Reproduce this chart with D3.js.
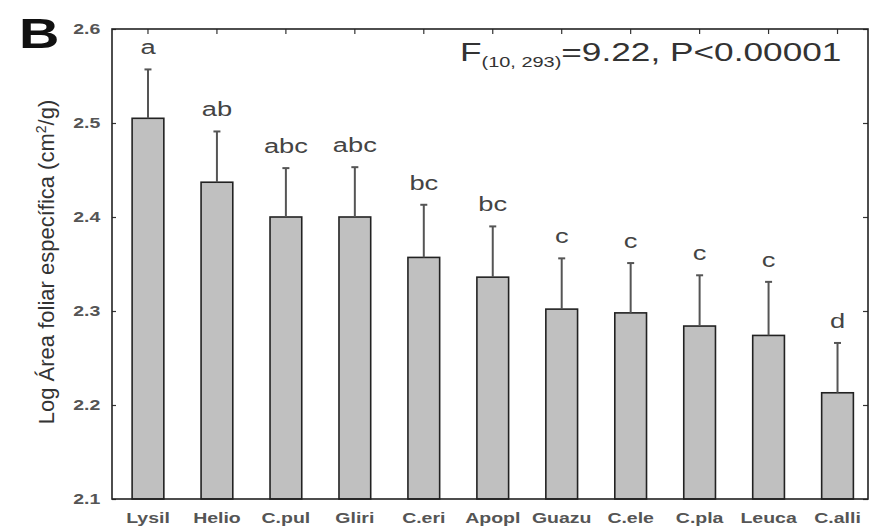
<!DOCTYPE html>
<html>
  <head>
    <style>
      body { margin: 0; background: #fff; font-family: Arial, "Liberation Sans", sans-serif; }
      .tick-label { font-size: 15px; font-weight: bold; fill: #555; }
      .cat-label { font-size: 15px; font-weight: bold; fill: #555; }
      .letter { font-size: 21px; fill: #444; text-anchor: middle; }
      .bar { fill: #c0c0c0; stroke: #222; stroke-width: 1.6; }
      .err { stroke: #555; stroke-width: 2; }
    </style>
  </head>
  <body>
    <script src="https://d3js.org/d3.v7.min.js"></script>
    <script>
      // data
      const categories = ['Lysil', 'Helio', 'C.pul', 'Gliri', 'C.eri', 'Apopl', 'Guazu', 'C.ele', 'C.pla', 'Leuca', 'C.alli'];
      const means = [2.505, 2.437, 2.400, 2.400, 2.357, 2.336, 2.302, 2.298, 2.284, 2.274, 2.213];
      const upper = [2.557, 2.491, 2.452, 2.453, 2.413, 2.390, 2.356, 2.351, 2.338, 2.331, 2.266];
      const letters = ['a', 'ab', 'abc', 'abc', 'bc', 'bc', 'c', 'c', 'c', 'c', 'd'];
      const yTicks = [2.1, 2.2, 2.3, 2.4, 2.5, 2.6];

      const data = categories.map((c, i) => ({ name: c, mean: means[i], up: upper[i], letter: letters[i] }));

      const width = 873, height = 526;
      const frame = { left: 112, top: 29, right: 868, bottom: 499 };
      const sx = 1.3; // the original figure is horizontally stretched

      const svg = d3.select('body').append('svg')
        .attr('width', width)
        .attr('height', height);

      const x = d3.scaleBand()
        .domain(categories)
        .range([113.5, 872])
        .paddingInner(0.54)
        .paddingOuter(0.27);

      const y = d3.scaleLinear()
        .domain([2.1, 2.6])
        .range([frame.bottom, frame.top]);

      // bars
      svg.append('g').selectAll('rect')
        .data(data)
        .join('rect')
        .attr('class', 'bar')
        .attr('x', d => x(d.name))
        .attr('width', x.bandwidth())
        .attr('y', d => y(d.mean))
        .attr('height', d => y(2.1) - y(d.mean));

      // error bars
      const errG = svg.append('g').attr('class', 'err');
      errG.selectAll('line.v')
        .data(data)
        .join('line')
        .attr('class', 'v')
        .attr('x1', d => x(d.name) + x.bandwidth() / 2)
        .attr('x2', d => x(d.name) + x.bandwidth() / 2)
        .attr('y1', d => y(d.mean))
        .attr('y2', d => y(d.up));
      errG.selectAll('line.cap')
        .data(data)
        .join('line')
        .attr('class', 'cap')
        .attr('x1', d => x(d.name) + x.bandwidth() / 2 - 3.5)
        .attr('x2', d => x(d.name) + x.bandwidth() / 2 + 3.5)
        .attr('y1', d => y(d.up))
        .attr('y2', d => y(d.up));

      // significance letters
      svg.append('g').selectAll('text')
        .data(data)
        .join('text')
        .attr('class', 'letter')
        .attr('transform', d => `translate(${x(d.name) + x.bandwidth() / 2},${y(d.up) - 15}) scale(${sx},1)`)
        .text(d => d.letter);

      // axes
      const yAxis = d3.axisLeft(y).tickValues(yTicks).tickFormat(d3.format('.1f'))
        .tickSizeInner(-4).tickSizeOuter(0).tickPadding(9);
      const gy = svg.append('g')
        .attr('transform', `translate(${frame.left},0)`)
        .call(yAxis);
      gy.selectAll('text')
        .attr('class', 'tick-label')
        .attr('transform', `scale(${sx},1)`);

      const yRight = d3.axisRight(y).tickValues(yTicks).tickFormat('')
        .tickSizeInner(-5).tickSizeOuter(0);
      svg.append('g')
        .attr('transform', `translate(${frame.right},0)`)
        .call(yRight);

      const xTop = d3.axisTop(x).tickFormat('').tickSizeInner(-5).tickSizeOuter(0);
      svg.append('g')
        .attr('transform', `translate(0,${frame.top})`)
        .call(xTop);

      const xAxis = d3.axisBottom(x).tickSizeInner(0).tickSizeOuter(0).tickPadding(13);
      const gx = svg.append('g')
        .attr('transform', `translate(0,${frame.bottom})`)
        .call(xAxis);
      gx.selectAll('text')
        .attr('class', 'cat-label')
        .attr('transform', `scale(${sx},1)`);

      svg.selectAll('.domain').remove();
      svg.selectAll('.tick line').attr('stroke', '#333').attr('stroke-width', 1.2);
      svg.selectAll('.tick text').attr('fill', '#555');

      // frame
      svg.append('rect')
        .attr('x', frame.left)
        .attr('y', frame.top)
        .attr('width', frame.right - frame.left)
        .attr('height', frame.bottom - frame.top)
        .attr('fill', 'none')
        .attr('stroke', '#222')
        .attr('stroke-width', 1.6);

      // y label
      const yl = svg.append('text')
        .attr('transform', `translate(54,${(frame.top + frame.bottom) / 2 - 2}) rotate(-90)`)
        .attr('text-anchor', 'middle')
        .attr('font-size', 22)
        .attr('fill', '#333');
      yl.append('tspan').text('Log Área foliar específica (cm');
      yl.append('tspan').attr('font-size', 14).attr('dy', -8).text('2');
      yl.append('tspan').attr('dy', 8).text('/g)');

      // panel letter
      svg.append('text')
        .attr('transform', `translate(19,48) scale(${sx},1)`)
        .attr('font-size', 43)
        .attr('font-weight', 'bold')
        .attr('fill', '#111')
        .text('B');

      // statistic
      const st = svg.append('text')
        .attr('transform', `translate(460,61) scale(1.33,1)`)
        .attr('font-size', 26.5)
        .attr('fill', '#333');
      st.append('tspan').text('F');
      st.append('tspan').attr('font-size', 15).attr('dy', 6).text('(10, 293)');
      st.append('tspan').attr('dy', -6).text('=9.22, P<0.00001');
    </script>
  </body>
</html>
